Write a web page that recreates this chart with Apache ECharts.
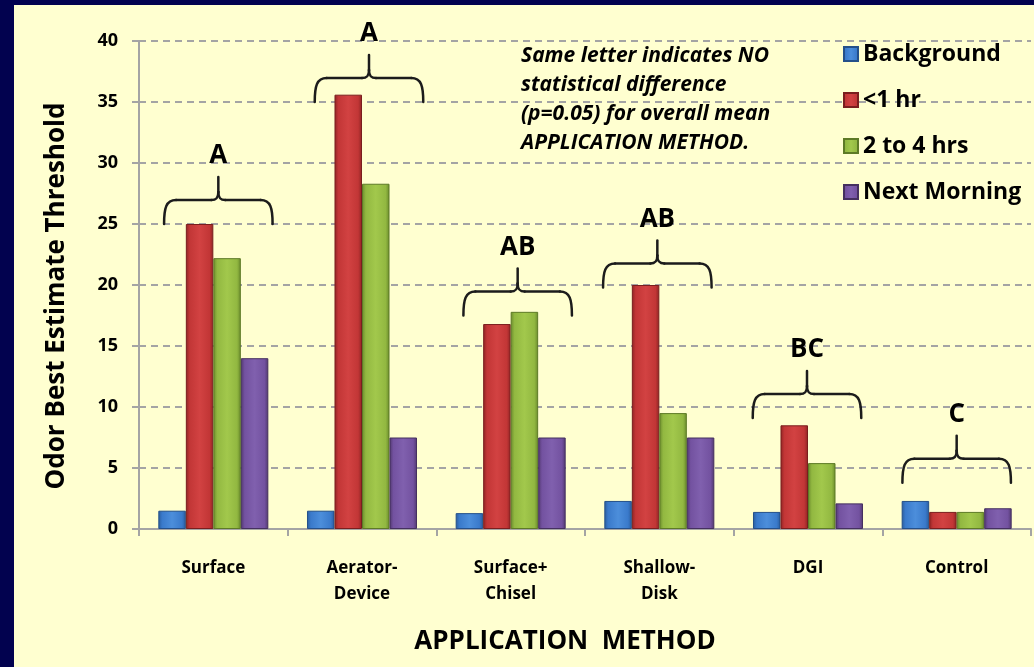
<!DOCTYPE html>
<html>
<head>
<meta charset="utf-8">
<script src="https://cdn.jsdelivr.net/npm/echarts@6/dist/echarts.min.js"></script>
<style>
  html, body { margin: 0; padding: 0; background: #02024f; }
  #chart { width: 1034px; height: 667px; }
</style>
</head>
<body>
<div id="chart"></div>
<script>
// Application methods on the category axis
const categories = ['Surface', 'Aerator-\nDevice', 'Surface+\nChisel', 'Shallow-\nDisk', 'DGI', 'Control'];

// Odor best estimate threshold per sampling time
const background  = [1.5, 1.5, 1.3, 2.3, 1.4, 2.3];
const lessThan1hr = [25.0, 35.6, 16.8, 20.0, 8.5, 1.4];
const twoTo4hrs   = [22.2, 28.3, 17.8, 9.5, 5.4, 1.4];
const nextMorning = [14.0, 7.5, 7.5, 7.5, 2.1, 1.7];

// Statistical grouping letters and the level each brace sits on
const groupLetters = ['A', 'A', 'AB', 'AB', 'BC', 'C'];
const braceLevel   = [25.0, 35.0, 17.5, 19.8, 9.1, 3.8];

const yTicks = { min: 0, max: 40, interval: 5 };

const FONT = '"Open Sans", "DejaVu Sans", sans-serif';

// bevelled look: darker rims, lighter middle
function barFill(rim, base, light) {
  return new echarts.graphic.LinearGradient(0, 0, 1, 0, [
    { offset: 0, color: rim },
    { offset: 0.14, color: base },
    { offset: 0.5, color: light },
    { offset: 0.86, color: base },
    { offset: 1, color: rim }
  ]);
}

const palette = [
  { name: 'Background',   data: background,  rim: '#2a5c9c', base: '#3a7acb', light: '#4c8edb', edge: '#24508a' },
  { name: '<1 hr',        data: lessThan1hr, rim: '#8e2424', base: '#c23636', light: '#d24242', edge: '#7a1e1e' },
  { name: '2 to 4 hrs',   data: twoTo4hrs,   rim: '#6a8a2c', base: '#92b841', light: '#a2c84c', edge: '#5d7a26' },
  { name: 'Next Morning', data: nextMorning, rim: '#51386f', base: '#7352a0', light: '#8060ae', edge: '#45305f' }
];

const barSeries = palette.map(p => ({
  name: p.name,
  type: 'bar',
  data: p.data,
  barGap: '0%',
  barCategoryGap: '26%',
  itemStyle: { color: barFill(p.rim, p.base, p.light), borderColor: p.edge, borderWidth: 1 },
  emphasis: { disabled: true },
  z: 2
}));

// small horizontal nudges (px) for each brace
const braceNudge = [5, 7, 7, -2, -1, 0];

function braceItem(params, api) {
  const i = params.dataIndex;
  const p = api.coord([api.value(0), api.value(1)]);
  const half = api.size([1, 0])[0] * 0.365;
  const xc = p[0] + braceNudge[i];
  const yT = p[1], yH = yT - 24, yP = yT - 47;
  const xL = xc - half, xR = xc + half;
  const st = { stroke: '#1c1c1c', lineWidth: 2.5, fill: null, lineCap: 'round' };
  const curve = (x1, y1, c1x, c1y, c2x, c2y, x2, y2) => ({
    type: 'bezierCurve',
    shape: { x1: x1, y1: y1, cpx1: c1x, cpy1: c1y, cpx2: c2x, cpy2: c2y, x2: x2, y2: y2 },
    style: st
  });
  const seg = (x1, y1, x2, y2) => ({ type: 'line', shape: { x1: x1, y1: y1, x2: x2, y2: y2 }, style: st });
  return {
    type: 'group',
    children: [
      curve(xL, yT, xL, yH + 8, xL + 2, yH, xL + 12, yH),
      seg(xL + 12, yH, xc - 7, yH),
      curve(xc - 7, yH, xc - 2, yH, xc, yH - 2, xc, yH - 8),
      seg(xc, yH - 8, xc, yP),
      curve(xc, yH - 8, xc, yH - 2, xc + 2, yH, xc + 7, yH),
      seg(xc + 7, yH, xR - 12, yH),
      curve(xR - 12, yH, xR - 2, yH, xR, yH + 8, xR, yT),
      {
        type: 'text',
        style: {
          text: groupLetters[i], x: xc, y: yP - 21,
          align: 'center', verticalAlign: 'middle',
          fill: '#000', fontSize: 26, fontWeight: 'bold', fontFamily: FONT
        }
      }
    ]
  };
}

const chart = echarts.init(document.getElementById('chart'), null, { renderer: 'canvas' });

chart.setOption({
  backgroundColor: '#02024f',
  animation: false,
  grid: { left: 139, right: 3, top: 41, bottom: 138, containLabel: false },
  legend: {
    orient: 'vertical',
    left: 838,
    top: 37,
    itemWidth: 14,
    itemHeight: 14,
    itemGap: 22,
    icon: 'rect',
    data: palette.map(p => p.name),
    textStyle: { fontSize: 23, fontWeight: 'bold', fontFamily: FONT, color: '#000', lineHeight: 24 },
    selectedMode: false
  },
  xAxis: {
    type: 'category',
    data: categories,
    axisLine: { lineStyle: { color: '#a4a4a4', width: 2 } },
    axisTick: { show: true, length: 7, lineStyle: { color: '#a4a4a4', width: 2 } },
    axisLabel: {
      color: '#000', fontSize: 17, fontWeight: 'bold', fontFamily: FONT,
      margin: 26, lineHeight: 26, interval: 0
    }
  },
  yAxis: {
    type: 'value',
    min: yTicks.min,
    max: yTicks.max,
    interval: yTicks.interval,
    axisLine: { show: true, lineStyle: { color: '#a4a4a4', width: 2 } },
    axisTick: { show: true, length: 7, lineStyle: { color: '#a4a4a4', width: 2 } },
    axisLabel: { color: '#000', fontSize: 18, fontWeight: 'bold', fontFamily: FONT, margin: 21 },
    splitLine: { show: true, lineStyle: { color: '#a4a4a4', width: 2, type: [7, 5] } }
  },
  graphic: [
    {
      type: 'rect', z: -100, silent: true,
      shape: { x: 14, y: 5, width: 1020, height: 662 },
      style: { fill: '#ffffd0' }
    },
    {
      type: 'text', z: 10, silent: true,
      x: 57, y: 296, rotation: Math.PI / 2,
      style: {
        text: 'Odor Best Estimate Threshold',
        align: 'center', verticalAlign: 'middle',
        fill: '#000', fontSize: 26, fontWeight: 'bold', fontFamily: FONT
      }
    },
    {
      type: 'text', z: 10, silent: true,
      x: 565, y: 642,
      style: {
        text: 'APPLICATION  METHOD',
        align: 'center', verticalAlign: 'middle',
        fill: '#000', fontSize: 26, fontWeight: 'bold', fontFamily: FONT
      }
    },
    {
      type: 'text', z: 10, silent: true,
      x: 521, y: 42,
      style: {
        text: 'Same letter indicates NO\nstatistical difference\n(p=0.05) for overall mean\nAPPLICATION METHOD.',
        align: 'left', verticalAlign: 'top',
        fill: '#000', fontSize: 21, fontWeight: 'bold', fontStyle: 'italic',
        fontFamily: FONT, lineHeight: 29
      }
    }
  ],
  series: barSeries.concat([{
    name: 'groups',
    type: 'custom',
    coordinateSystem: 'cartesian2d',
    renderItem: braceItem,
    data: braceLevel.map((v, i) => [i, v]),
    encode: { x: 0, y: 1 },
    silent: true,
    z: 5
  }])
});
</script>
</body>
</html>
